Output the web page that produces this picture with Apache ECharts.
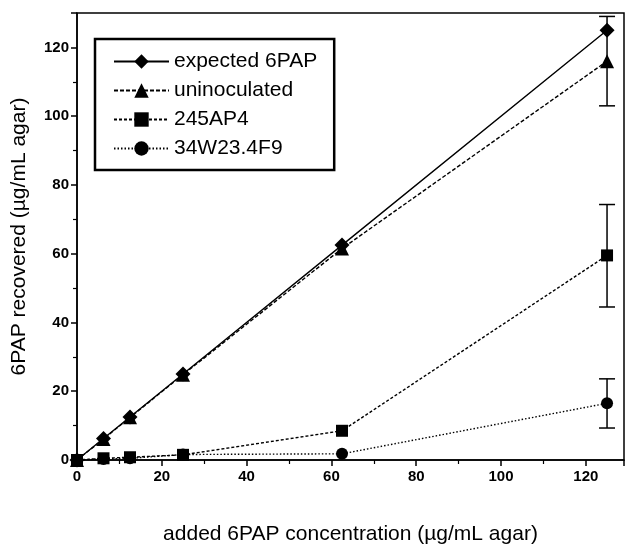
<!DOCTYPE html>
<html>
<head>
<meta charset="utf-8">
<script src="https://cdn.jsdelivr.net/npm/echarts@6/dist/echarts.min.js"></script>
<style>
html, body { margin: 0; padding: 0; background: #fff; }
#chart { width: 626px; height: 550px; }
</style>
</head>
<body>
<div id="chart"></div>
<script>
// added concentration (x)
var xValues = [0, 6.25, 12.5, 25, 62.5, 125];
var seriesNames = ['expected 6PAP', 'uninoculated', '245AP4', '34W23.4F9'];
var expected = [0, 6.25, 12.5, 25, 62.5, 125];
var uninoculated = [0, 6.1, 12.4, 24.8, 61.5, 116];
var ap4 = [0, 0.5, 0.8, 1.5, 8.5, 59.5];
var f9 = [0, 0.3, 0.5, 1.6, 1.8, 16.5];
// error bars at x = 125 : [x, low, high]
var errUninoc = [[125, 103, 129]];
var errAp4 = [[125, 44.5, 74.3]];
var errF9 = [[125, 9.3, 23.6]];

function pairs(ys) {
    return xValues.map(function (x, i) { return [x, ys[i]]; });
}

function errorSeries(data) {
    return {
        type: 'custom',
        silent: true,
        z: 1,
        data: data,
        renderItem: function (params, api) {
            var top = api.coord([api.value(0), api.value(2)]);
            var bot = api.coord([api.value(0), api.value(1)]);
            var w = 8;
            var st = { stroke: '#000', lineWidth: 1.5 };
            return {
                type: 'group',
                children: [
                    { type: 'line', shape: { x1: top[0], y1: top[1], x2: bot[0], y2: bot[1] }, style: st },
                    { type: 'line', shape: { x1: top[0] - w, y1: top[1], x2: top[0] + w, y2: top[1] }, style: st },
                    { type: 'line', shape: { x1: bot[0] - w, y1: bot[1], x2: bot[0] + w, y2: bot[1] }, style: st }
                ]
            };
        }
    };
}

function lineSeries(name, ys, symbol, size, dash) {
    return {
        name: name,
        type: 'line',
        data: pairs(ys),
        symbol: symbol,
        symbolSize: size,
        z: 3,
        itemStyle: { color: '#000' },
        lineStyle: { color: '#000', width: 1.4, type: dash }
    };
}

var myChart = echarts.init(document.getElementById('chart'));
var font = 'Liberation Sans, Arial, sans-serif';
var option = {
    animation: false,
    textStyle: { fontFamily: font, color: '#000' },
    grid: {
        left: 77, right: 2, top: 13, bottom: 90,
        show: true, borderColor: '#000', borderWidth: 1.5
    },
    legend: {
        left: 95, top: 39,
        orient: 'vertical',
        padding: [12, 17, 11, 18],
        itemGap: 8,
        itemWidth: 55,
        itemHeight: 18,
        borderColor: '#000',
        borderWidth: 2.5,
        textStyle: { fontSize: 21, color: '#000', fontFamily: font },
        data: seriesNames
    },
    xAxis: {
        type: 'value',
        min: 0, max: 129, interval: 20,
        name: 'added 6PAP concentration (µg/mL agar)',
        nameLocation: 'middle',
        nameGap: 64,
        nameTextStyle: { fontSize: 21, color: '#000' },
        splitLine: { show: false },
        axisLine: { onZero: false, lineStyle: { color: '#000', width: 1.5 } },
        axisTick: { length: 6, lineStyle: { color: '#000', width: 1.5 } },
        minorTick: { show: true, splitNumber: 2, length: 4, lineStyle: { color: '#000', width: 1.2 } },
        axisLabel: { fontSize: 15, fontWeight: 'bold', color: '#000', margin: 9, showMaxLabel: false }
    },
    yAxis: {
        type: 'value',
        min: 0, max: 130, interval: 20,
        name: '6PAP recovered (µg/mL agar)',
        nameLocation: 'middle',
        nameGap: 47,
        nameTextStyle: { fontSize: 21, color: '#000' },
        splitLine: { show: false },
        axisLine: { lineStyle: { color: '#000', width: 1.5 } },
        axisTick: { length: 6, lineStyle: { color: '#000', width: 1.5 } },
        minorTick: { show: true, splitNumber: 2, length: 4, lineStyle: { color: '#000', width: 1.2 } },
        axisLabel: { fontSize: 15, fontWeight: 'bold', color: '#000', margin: 8, showMaxLabel: false }
    },
    series: [
        lineSeries(seriesNames[0], expected, 'diamond', 15, 'solid'),
        lineSeries(seriesNames[1], uninoculated, 'triangle', 14, [4, 2]),
        lineSeries(seriesNames[2], ap4, 'rect', 12, [3, 2]),
        lineSeries(seriesNames[3], f9, 'circle', 12, [1.5, 2]),
        errorSeries(errUninoc),
        errorSeries(errAp4),
        errorSeries(errF9)
    ]
};
myChart.setOption(option);
</script>
</body>
</html>
